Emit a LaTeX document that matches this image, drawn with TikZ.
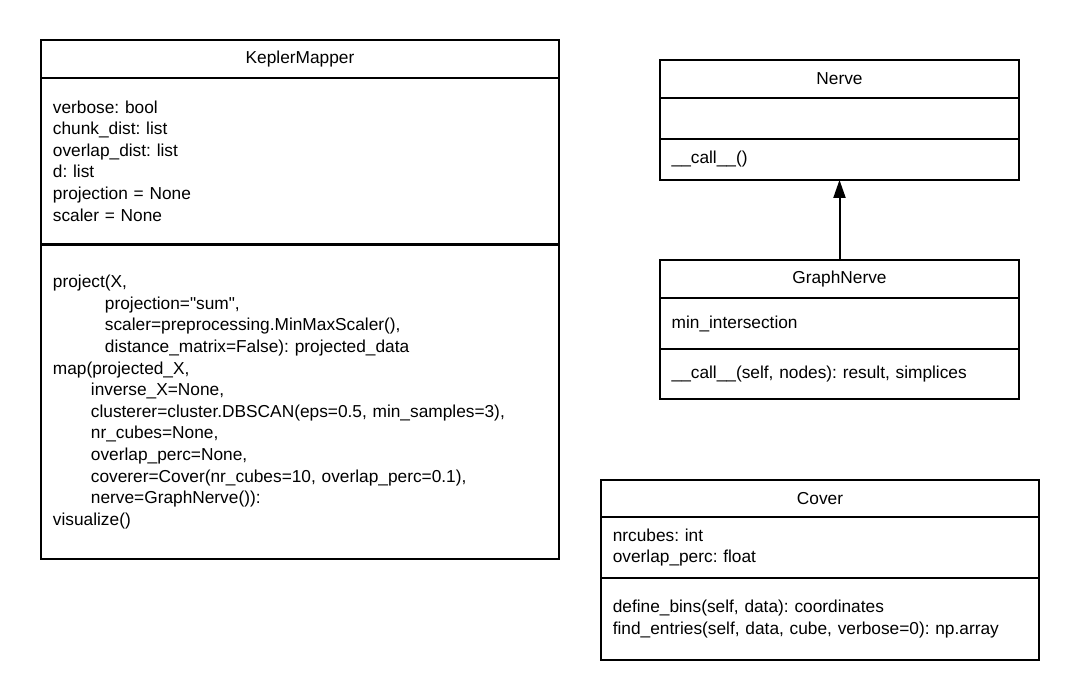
\documentclass[tikz,border=0pt]{standalone}
\usepackage{fontspec}
\setmainfont{Liberation Sans}
\usepackage{tikz}
\usetikzlibrary{arrows.meta,positioning}
\frenchspacing

\begin{document}
\begin{tikzpicture}[x=1bp, y=-1bp, font=\fontsize{17.3bp}{21.6bp}\selectfont]
    % Setup the styles for the class boxes
    \tikzset{part style/.style={
        draw,
        line width=2bp,
        inner sep=0pt,
        outer sep=0pt},
      head style/.style={part style},
      body style/.style={
        part style,
        align=left}}
    \useasboundingbox (0, 0) rectangle (1080, 700);

    % KeplerMapper
    \node[head style, minimum width=520, minimum height=38] at (300, 59) (kmhead) {KeplerMapper};
    \node[body style, minimum width=520, minimum height=166, text width=496] at (300, 161) (kmattr)
        {verbose: bool\\chunk\_dist: list\\overlap\_dist: list\\d: list\\projection = None\\scaler = None};
    \node[body style, minimum width=520, minimum height=316, text width=496] at (300, 402) (kmops)
        {project(X,\\
         \hspace*{52bp}projection=\textquotedbl sum\textquotedbl,\\
         \hspace*{52bp}scaler=preprocessing.MinMaxScaler(),\\
         \hspace*{52bp}distance\_matrix=False): projected\_data\\
         map(projected\_X,\\
         \hspace*{38bp}inverse\_X=None,\\
         \hspace*{38bp}clusterer=cluster.DBSCAN(eps=0.5, min\_samples=3),\\
         \hspace*{38bp}nr\_cubes=None,\\
         \hspace*{38bp}overlap\_perc=None,\\
         \hspace*{38bp}coverer=Cover(nr\_cubes=10, overlap\_perc=0.1),\\
         \hspace*{38bp}nerve=GraphNerve()):\\
         visualize()};

    % Nerve
    \node[head style, minimum width=361, minimum height=38] at (839.5, 79) (nvhead) {Nerve};
    \node[body style, minimum width=361, minimum height=41, text width=337] at (839.5, 118.5) (nvattr) {};
    \node[body style, minimum width=361, minimum height=41, text width=337] at (839.5, 159.5) (nvops)
        {\_\_call\_\_()};

    % GraphNerve
    \node[head style, minimum width=361, minimum height=38] at (839.5, 279) (gnhead) {GraphNerve};
    \node[body style, minimum width=361, minimum height=51, text width=337] at (839.5, 323.5) (gnattr)
        {min\_intersection};
    \node[body style, minimum width=361, minimum height=50, text width=337] at (839.5, 374) (gnops)
        {\_\_call\_\_(self, nodes): result, simplices};

    % Cover
    \node[head style, minimum width=440, minimum height=37] at (820, 498.5) (cvhead) {Cover};
    \node[body style, minimum width=440, minimum height=61, text width=416] at (820, 547.5) (cvattr)
        {nrcubes: int\\overlap\_perc: float};
    \node[body style, minimum width=440, minimum height=82, text width=416] at (820, 619) (cvops)
        {define\_bins(self, data): coordinates\\find\_entries(self, data, cube, verbose=0): np.array};

    % Connect the classes
    \draw[line width=2bp, -{Triangle[length=18bp, width=12bp]}] (gnhead.north) -- (nvops.south);
\end{tikzpicture}
\end{document}
